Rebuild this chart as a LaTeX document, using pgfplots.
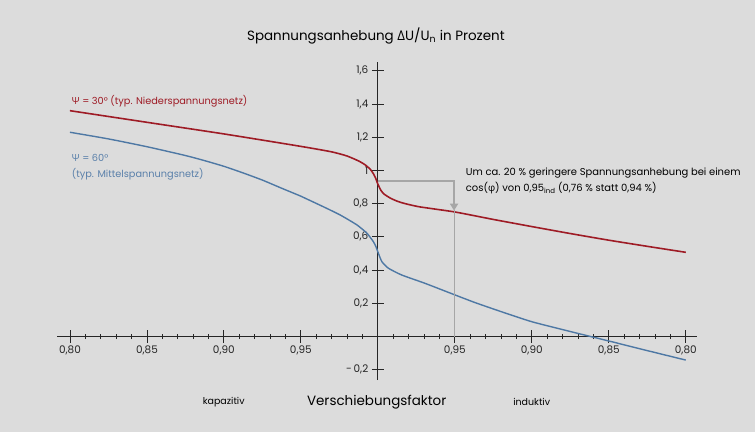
\documentclass[border=0pt]{standalone}
\usepackage{pgfplots}
\pgfplotsset{compat=1.18}
\usetikzlibrary{arrows.meta}
\usepackage{fontspec}
\setmainfont{Poppins}
\newfontfamily\grk{Open Sans}
\definecolor{bgc}{HTML}{DCDCDC}
\definecolor{dred}{HTML}{9E1B25}
\definecolor{sblue}{HTML}{4E78A4}
\definecolor{lblue}{HTML}{5A80AA}
\definecolor{agray}{HTML}{A6A6A6}
\newcommand\fs[1]{\fontsize{#1}{#1}\selectfont}
\begin{document}
\begin{tikzpicture}[x=1bp,y=1bp]
\path[use as bounding box, fill=bgc] (0,0) rectangle (755,432);
\begin{axis}[
  at={(57bp,52bp)}, anchor=south west,
  scale only axis, width=640bp, height=318.3bp,
  xmin=-0.2084, xmax=0.2073, ymin=-0.262, ymax=1.655,
  axis lines=middle,
  axis line style={-, line width=1.1pt, black!85},
  xtick={-0.2,-0.15,-0.1,-0.05,0.05,0.1,0.15,0.2},
  xticklabels={{0,80},{0,85},{0,90},{0,95},{0,95},{0,90},{0,85},{0,80}},
  minor xtick={-0.19,-0.18,-0.17,-0.16,-0.14,-0.13,-0.12,-0.11,-0.09,-0.08,-0.07,-0.06,-0.04,-0.03,-0.02,-0.01,0.01,0.02,0.03,0.04,0.06,0.07,0.08,0.09,0.11,0.12,0.13,0.14,0.16,0.17,0.18,0.19},
  ytick={-0.2,0.2,0.4,0.6,0.8,1,1.2,1.4,1.6},
  yticklabels={{-\,0,2},{0,2},{0,4},{0,6},{0,8},{1},{1,2},{1,4},{1,6}},
  tick align=center,
  major tick length=12bp, minor tick length=5bp,
  every tick/.style={black!85, line width=0.8pt},
  tick label style={font=\fs{10.5}, text=black!85},
  clip=false,
]
\addplot[dred, line width=1.6pt, smooth, tension=0.35] coordinates {
(-0.20,1.36) (-0.15,1.29) (-0.10,1.22) (-0.05,1.145) (-0.03,1.112) (-0.02,1.087)
(-0.012,1.055) (-0.008,1.032) (-0.005,1.008) (-0.003,0.982) (-0.0015,0.955) (0,0.918)
(0.002,0.88) (0.004,0.858) (0.008,0.834) (0.012,0.817) (0.017,0.802) (0.027,0.781)
(0.05,0.75) (0.075,0.705) (0.10,0.662) (0.125,0.62) (0.15,0.58) (0.175,0.543) (0.20,0.507)
};
\addplot[sblue, line width=1.4pt, smooth, tension=0.35] coordinates {
(-0.20,1.23) (-0.175,1.19) (-0.15,1.143) (-0.125,1.09) (-0.1125,1.059) (-0.10,1.025)
(-0.0875,0.985) (-0.075,0.942) (-0.0625,0.893) (-0.05,0.845) (-0.0461,0.828)
(-0.0353,0.781) (-0.0245,0.732) (-0.0136,0.672)
(-0.0071,0.622) (-0.0029,0.571) (-0.0012,0.54) (0.0004,0.50) (0.0026,0.451)
(0.0069,0.411) (0.0156,0.370) (0.0307,0.320) (0.0502,0.25) (0.0632,0.204)
(0.08,0.15) (0.10,0.089) (0.125,0.03) (0.15,-0.027) (0.175,-0.085) (0.20,-0.142)
};
\addplot[agray, line width=0.8pt] coordinates {(0.0495,0.76) (0.0495,0)};
\addplot[agray, line width=2.5pt, -{Triangle[length=7bp,width=8bp]}] coordinates {(0,0.937) (0.0495,0.937) (0.0495,0.758)};
\end{axis}
\node[font=\fs{13.5}, inner sep=0] at (375.9,396.3) {Spannungsanhebung {\grk Δ}U/U\textsubscript{n} in Prozent};
\node[font=\fs{9.8}, inner sep=0, anchor=west, text=dred] at (71.7,330.3) {{\grk Ψ} = 30° (typ. Niederspannungsnetz)};
\node[font=\fs{9.8}, inner sep=0, anchor=west, text=lblue] at (71.7,274.5) {{\grk Ψ} = 60°};
\node[font=\fs{9.8}, inner sep=0, anchor=west, text=lblue] at (71.7,257.8) {(typ. Mittelspannungsnetz)};
\node[font=\fs{10}, inner sep=0, anchor=west] at (465.7,259.3) {Um ca. 20 \% geringere Spannungsanhebung bei einem};
\node[font=\fs{10}, inner sep=0, anchor=west] at (465.7,244.3) {cos({\grk φ}) von 0,95\textsubscript{ind} (0,76 \% statt 0,94 \%)};
\node[font=\fs{9.5}, inner sep=0] at (223.7,30.3) {kapazitiv};
\node[font=\fs{13.5}, inner sep=0] at (376.7,30.3) {Verschiebungsfaktor};
\node[font=\fs{9.5}, inner sep=0] at (531.7,30.3) {induktiv};
\end{tikzpicture}
\end{document}
